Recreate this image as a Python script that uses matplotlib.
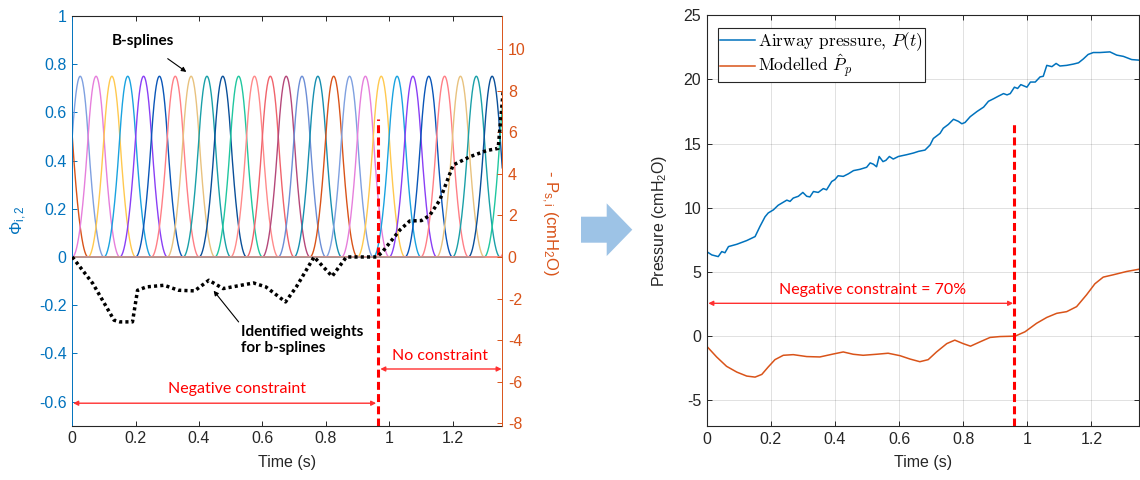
import numpy as np
import matplotlib
matplotlib.use('Agg')
import matplotlib.pyplot as plt
from matplotlib.font_manager import FontProperties
from matplotlib.patches import FancyArrow

plt.rcParams['font.family'] = ['Liberation Sans', 'DejaVu Sans']
plt.rcParams['mathtext.fontset'] = 'custom'
plt.rcParams['mathtext.rm'] = 'Liberation Sans'
plt.rcParams['mathtext.it'] = 'Liberation Sans:italic'

# B-spline basis (quadratic, uniform knots)
knot_step = 0.05
first_knot = -0.1
n_splines = 30
spline_colors = ['#D95319', '#7FA0E0', '#E67FDC', '#FFC94F', '#1AA3E0', '#8A3FF5',
                 '#0A56B8', '#FF7F86', '#E8C27F', '#1AA0A8', '#0A4F99', '#20C79F',
                 '#FF8A8A', '#F0636B', '#B5487A', '#6C8ED6', '#178FB0']

# identified weights (-P_s,i, cmH2O)
weight_t = [0.0, 0.065, 0.132, 0.15, 0.19, 0.206, 0.234, 0.29, 0.335, 0.386, 0.431,
            0.476, 0.572, 0.611, 0.673, 0.707, 0.763, 0.82, 0.865, 0.96, 0.977, 1.034,
            1.065, 1.102, 1.128, 1.16, 1.202, 1.255, 1.307, 1.344, 1.36]
weight_val = [0, -1.28, -3.04, -3.12, -3.12, -1.6, -1.44, -1.36, -1.6, -1.63, -1.12,
              -1.52, -1.25, -1.44, -2.16, -1.44, 0, -0.93, 0, 0, 0.21, 1.3,
              1.73, 1.75, 2.0, 2.74, 4.42, 4.82, 5.11, 5.22, 8.0]

# airway pressure P(t)
paw_t = [0.0, 0.016, 0.036, 0.047, 0.057, 0.068, 0.094, 0.125, 0.151, 0.166, 0.182,
         0.192, 0.208, 0.223, 0.25, 0.26, 0.27, 0.286, 0.3, 0.312, 0.322, 0.333, 0.348,
         0.364, 0.374, 0.39, 0.4, 0.41, 0.426, 0.442, 0.458, 0.478, 0.499, 0.51, 0.52,
         0.53, 0.538, 0.55, 0.559, 0.57, 0.582, 0.598, 0.624, 0.645, 0.661, 0.681,
         0.697, 0.707, 0.728, 0.738, 0.754, 0.77, 0.785, 0.796, 0.806, 0.822, 0.843,
         0.864, 0.879, 0.895, 0.91, 0.926, 0.937, 0.947, 0.96, 0.97, 0.98, 0.999,
         1.01, 1.025, 1.04, 1.05, 1.061, 1.077, 1.09, 1.102, 1.123, 1.144, 1.16,
         1.175, 1.19, 1.206, 1.227, 1.258, 1.279, 1.3, 1.326, 1.352]
paw_val = [6.59, 6.33, 6.2, 6.59, 6.5, 6.98, 7.16, 7.45, 7.76, 8.54, 9.3,
           9.6, 9.84, 10.2, 10.6, 10.5, 10.76, 10.9, 11.2, 10.9, 10.85, 11.27, 11.2,
           11.5, 11.4, 12.05, 12.2, 12.5, 12.45, 12.65, 12.9, 13.0, 13.16, 13.5, 13.4,
           13.2, 14.0, 13.6, 13.7, 14.0, 13.8, 14.0, 14.14, 14.27, 14.4, 14.5,
           14.9, 15.4, 15.8, 16.2, 16.5, 16.9, 16.74, 16.55, 16.65, 17.1, 17.5,
           17.85, 18.3, 18.5, 18.7, 18.9, 18.8, 18.9, 19.4, 19.3, 19.6, 19.4,
           19.8, 19.8, 20.2, 20.25, 21.1, 21.0, 21.25, 21.05, 21.1, 21.2, 21.3,
           21.6, 21.95, 22.1, 22.1, 22.15, 21.9, 21.8, 21.55, 21.5]

# modelled P_p
model_t = [0.0, 0.031, 0.062, 0.094, 0.125, 0.151, 0.172, 0.192, 0.213, 0.239, 0.27,
           0.312, 0.353, 0.395, 0.426, 0.457, 0.488, 0.53, 0.566, 0.603, 0.634, 0.665,
           0.691, 0.717, 0.749, 0.774, 0.8, 0.823, 0.853, 0.884, 0.915, 0.962, 0.993,
           1.029, 1.061, 1.092, 1.123, 1.154, 1.185, 1.211, 1.237, 1.268, 1.31, 1.352]
model_val = [-0.78, -1.62, -2.35, -2.8, -3.11, -3.19, -2.98, -2.4, -1.83, -1.49, -1.44,
             -1.59, -1.62, -1.39, -1.23, -1.41, -1.49, -1.41, -1.33, -1.52, -1.78, -1.99,
             -1.83, -1.23, -0.58, -0.31, -0.58, -0.78, -0.44, -0.1, -0.03, 0.0, 0.34,
             1.0, 1.46, 1.78, 1.91, 2.3, 3.22, 4.08, 4.6, 4.78, 5.04, 5.23]

switch_left = 0.964
switch_right = 0.96

BLUE = '#0072BD'
ORANGE = '#D95319'
DARK = '#262626'
RED = '#FF0000'
NOTE_FONT = ['Lato', 'DejaVu Sans']


def quad_bspline(t, t0, h):
    u = (t - t0) / h
    y = np.zeros_like(t)
    m = (u >= 0) & (u < 1)
    y[m] = 0.5 * u[m] ** 2
    m = (u >= 1) & (u < 2)
    y[m] = 0.75 - (u[m] - 1.5) ** 2
    m = (u >= 2) & (u < 3)
    y[m] = 0.5 * (3 - u[m]) ** 2
    return y


fig = plt.figure(figsize=(11.4, 4.8), dpi=100)

# ---------------- left panel ----------------
ax1 = fig.add_axes([0.0634, 0.1133, 0.3772, 0.8533])
tt = np.linspace(0, 1.357, 1400)
for k in range(n_splines):
    ax1.plot(tt, quad_bspline(tt, first_knot + k * knot_step, knot_step),
             color=spline_colors[k % len(spline_colors)], lw=1.0)
ax1.set_xlim(0, 1.357)
ax1.set_ylim(-0.7, 1)
ax1.set_xticks([0, 0.2, 0.4, 0.6, 0.8, 1, 1.2])
ax1.set_xticklabels(['0', '0.2', '0.4', '0.6', '0.8', '1', '1.2'])
ax1.set_yticks([-0.6, -0.4, -0.2, 0, 0.2, 0.4, 0.6, 0.8, 1])
ax1.set_yticklabels(['-0.6', '-0.4', '-0.2', '0', '0.2', '0.4', '0.6', '0.8', '1'])
ax1.tick_params(axis='x', direction='in', length=3.5, width=0.7, colors=DARK,
                labelsize=11.5, pad=4, top=True)
ax1.tick_params(axis='y', direction='in', length=3.5, width=0.7, colors=BLUE,
                labelsize=11.5, pad=4)
for s in ['top', 'bottom']:
    ax1.spines[s].set_color(DARK)
    ax1.spines[s].set_linewidth(0.8)
ax1.spines['left'].set_color(BLUE)
ax1.spines['left'].set_linewidth(0.7)
ax1.spines['right'].set_visible(False)
ax1.set_xlabel('Time (s)', fontsize=11.5, color=DARK, labelpad=6)
ax1.set_ylabel(r'$\Phi_{\rm i,2}$', fontsize=12, color=BLUE, rotation=90,
               ha='center', va='center', rotation_mode='default')
ax1.yaxis.set_label_coords(-0.125, 0.5)

ax1.plot([switch_left, switch_left], [-0.7, 0.573], color=RED, lw=2.2,
         dashes=(2.6, 1.4))

ax1.annotate('', xy=(switch_left - 0.005, -0.607), xytext=(0.003, -0.607),
             arrowprops=dict(arrowstyle='<|-|>', color='#FF3030', lw=1.0,
                             mutation_scale=7, shrinkA=0, shrinkB=0))
ax1.text(0.519, -0.55, 'Negative constraint', color=RED, fontsize=11.5,
         family=NOTE_FONT, ha='center', va='center')
ax1.annotate('', xy=(1.355, -0.465), xytext=(0.972, -0.465),
             arrowprops=dict(arrowstyle='<|-|>', color='#FF3030', lw=1.0,
                             mutation_scale=7, shrinkA=0, shrinkB=0))
ax1.text(1.162, -0.41, 'No constraint', color=RED, fontsize=11.5,
         family=NOTE_FONT, ha='center', va='center')

ax1.annotate('B-splines', xy=(0.36, 0.768), xytext=(0.222, 0.897),
             fontsize=11, fontweight='bold', family=NOTE_FONT, ha='center',
             va='center',
             arrowprops=dict(arrowstyle='-|>', color='black', lw=0.8,
                             mutation_scale=7, shrinkA=10, shrinkB=0))
ax1.annotate('Identified weights\nfor b-splines', xy=(0.446, -0.14),
             xytext=(0.532, -0.345), fontsize=11, fontweight='bold',
             family=NOTE_FONT, ha='left', va='center', linespacing=1.25,
             arrowprops=dict(arrowstyle='-|>', color='black', lw=0.8,
                             mutation_scale=7, shrinkA=0, shrinkB=0,
                             relpos=(0.0, 1.0)))

ax2 = ax1.twinx()
ax2.plot(weight_t, weight_val, color='black', lw=2.5, dashes=(0.9, 0.9))
ax2.set_ylim(-0.7 * 11.58, 11.58)
ax2.set_xlim(0, 1.357)
ax2.set_yticks([-8, -6, -4, -2, 0, 2, 4, 6, 8, 10])
ax2.set_yticklabels(['-8', '-6', '-4', '-2', '0', '2', '4', '6', '8', '10'])
ax2.tick_params(axis='y', direction='in', length=3.5, width=0.7, colors=ORANGE,
                labelsize=11.5, pad=4)
for s in ['top', 'bottom', 'left']:
    ax2.spines[s].set_visible(False)
ax2.spines['right'].set_color(ORANGE)
ax2.spines['right'].set_linewidth(0.7)
ax2.set_ylabel(r'- P$_{\rm s,i}$ (cmH$_2$O)', fontsize=12, color=ORANGE,
               rotation=270, ha='center', va='center', rotation_mode='default')
ax2.yaxis.set_label_coords(1.109, 0.495)

# ---------------- arrow between panels ----------------
fig.patches.append(FancyArrow(581 / 1140, 1 - 229.7 / 480, 51.3 / 1140, 0,
                              width=26 / 480, head_width=52.7 / 480,
                              head_length=25.6 / 1140, length_includes_head=True,
                              transform=fig.transFigure, color='#9DC3E6', lw=0))

# ---------------- right panel ----------------
ax3 = fig.add_axes([0.6199, 0.1125, 0.3796, 0.8556])
ax3.plot(paw_t, paw_val, color=BLUE, lw=1.1, label='Airway pressure, $P(t)$')
ax3.plot(model_t, model_val, color=ORANGE, lw=1.1, label=r'Modelled $\hat{P}_p$')
ax3.plot([switch_right, switch_right], [-7, 16.74], color=RED, lw=2.2,
         dashes=(2.6, 1.4))
ax3.annotate('', xy=(0.956, 2.56), xytext=(0.005, 2.56),
             arrowprops=dict(arrowstyle='<|-|>', color='#FF3030', lw=1.0,
                             mutation_scale=7, shrinkA=0, shrinkB=0))
ax3.text(0.519, 3.6, 'Negative constraint = 70%', color=RED, fontsize=11.5,
         family=NOTE_FONT, ha='center', va='center')
ax3.set_xlim(0, 1.35)
ax3.set_ylim(-7, 25)
ax3.set_xticks([0, 0.2, 0.4, 0.6, 0.8, 1, 1.2])
ax3.set_xticklabels(['0', '0.2', '0.4', '0.6', '0.8', '1', '1.2'])
ax3.set_yticks([-5, 0, 5, 10, 15, 20, 25])
ax3.set_yticklabels(['-5', '0', '5', '10', '15', '20', '25'])
ax3.tick_params(direction='in', length=3.5, width=0.7, colors=DARK,
                labelsize=11.5, pad=4, top=True, right=True)
ax3.grid(True, color='black', alpha=0.12, lw=0.7)
for s in ax3.spines.values():
    s.set_color(DARK)
    s.set_linewidth(0.8)
ax3.set_xlabel('Time (s)', fontsize=11.5, color=DARK, labelpad=6)
ax3.set_ylabel('Pressure (cmH$_2$O)', fontsize=11.5, color=DARK, rotation=90,
               ha='center', va='center', rotation_mode='default')
ax3.yaxis.set_label_coords(-0.108, 0.5)

leg_font = FontProperties(family='cmr10', size=12.5, math_fontfamily='cm')
leg = ax3.legend(loc='upper left', bbox_to_anchor=(0.026, 0.969), prop=leg_font,
                 frameon=True, fancybox=False, edgecolor=DARK, framealpha=1,
                 borderpad=0.12, handlelength=2.0, handletextpad=0.2,
                 labelspacing=0.0, borderaxespad=0)
leg.get_frame().set_linewidth(0.8)

fig.savefig('out.png', dpi=100)
